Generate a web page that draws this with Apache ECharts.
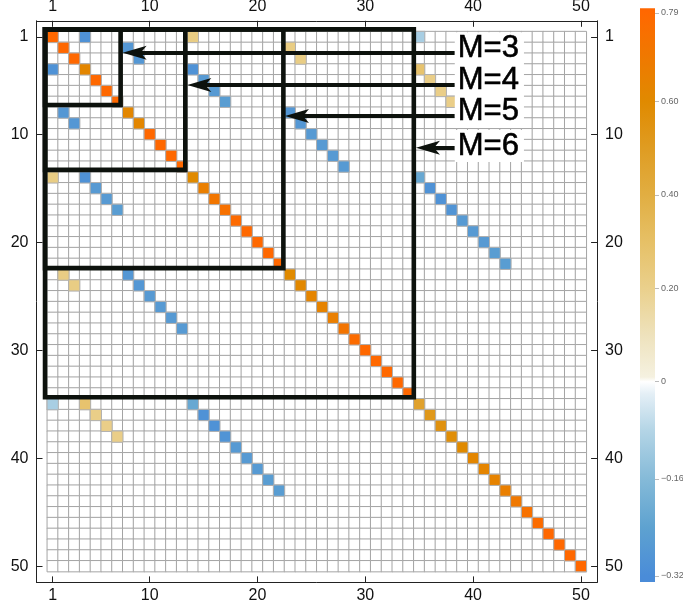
<!DOCTYPE html>
<html><head><meta charset="utf-8">
<script src="https://cdn.jsdelivr.net/npm/echarts@6/dist/echarts.min.js"></script>
<style>html,body{margin:0;padding:0;background:#fff}#c{width:683px;height:610px}</style>
</head><body><div id="c"></div>
<script>
// ---------------- data ----------------
const N = 50;
const tickLabels = [1, 10, 20, 30, 40, 50];
const diagonal = [
  0.79,0.79,0.79,0.62,0.79,0.79,0.79,
  0.62,0.62,0.79,0.79,0.79,0.79,
  0.60,0.66,0.71,0.74,0.78,0.79,0.79,0.79,0.79,
  0.60,0.61,0.63,0.64,0.66,0.72,0.77,0.79,0.79,0.79,0.79,0.79,
  0.47,0.52,0.56,0.58,0.60,0.62,0.63,0.64,0.66,0.70,0.74,0.77,0.79,0.79,0.79,0.79
];
// upper-triangle off-diagonal entries (the matrix is symmetric)
const offRows = [1,2,3, 4,5,6,7, 1, 2,3, 8,9,10,11,12,13, 1, 4,5,6,7, 14,15,16,17,18,19,20,21,22];
const offCols = [4,8,9, 14,15,16,17, 14, 23,24, 23,24,25,26,27,28, 35, 35,36,37,38, 35,36,37,38,39,40,41,42,43];
const offVals = [-0.30,-0.28,-0.28, -0.30,-0.27,-0.27,-0.26, 0.22, 0.22,0.22,
                 -0.28,-0.28,-0.27,-0.27,-0.27,-0.27, -0.10, 0.28,0.21,0.21,0.21,
                 -0.22,-0.30,-0.30,-0.29,-0.27,-0.27,-0.27,-0.26,-0.26];
// annotation boxes / arrows (matrix units)
const boxNames = ['M=3', 'M=4', 'M=5', 'M=6'];
const boxStart = 0.29;
const boxRight = [7.3, 13.3, 22.4, 34.5];
const boxBottom = [7.3, 13.3, 22.4, 34.36];
const arrowY = [2.45, 5.44, 8.31, 11.25];
const arrowTip = [7.49, 13.49, 22.55, 34.7];
const arrowTail = 38.3;
const labelY = [2.05, 4.98, 7.94, 11.09];
// colour bar
const cbarUpperTicks = [0.2, 0.4, 0.6, 0.79];
const cbarLowerTicks = [0, -0.16, -0.32];
const scaleVals = [-0.33,-0.32,-0.24,-0.16,-0.08,-0.02,0,0.01,0.1,0.2,0.3,0.4,0.5,0.6,0.7,0.79,0.8];
const scaleCols = ['#4a8bd8','#4a8cd8','#5ea2d0','#85bad8','#b4d5e6','#e4eff6','#ffffff','#f5f1e0','#eee2bc','#ead08c','#e6c066','#e1ae42','#df9c22','#e08a00','#f07800','#ff6800','#ff6600'];
const vMin = -0.33, vMax = 0.8;

// ---------------- helpers ----------------
function hex(h){return [parseInt(h.slice(1,3),16),parseInt(h.slice(3,5),16),parseInt(h.slice(5,7),16)];}
function colorAt(v){
  if (v <= scaleVals[0]) return scaleCols[0];
  for (let i = 0; i < scaleVals.length - 1; i++) {
    if (v <= scaleVals[i+1]) {
      const t = (v - scaleVals[i]) / (scaleVals[i+1] - scaleVals[i]);
      const a = hex(scaleCols[i]), b = hex(scaleCols[i+1]);
      const c = a.map((x, k) => Math.round(x + (b[k] - x) * t));
      return 'rgb(' + c.join(',') + ')';
    }
  }
  return scaleCols[scaleCols.length - 1];
}
const cats = Array.from({length: N}, (_, i) => String(i + 1));
const bgCells = [];
for (let r = 0; r < N; r++) for (let c = 0; c < N; c++) bgCells.push([c, r, 0]);
const cells = diagonal.map((v, i) => [i, i, v]);
offRows.forEach((r, k) => {
  cells.push([offCols[k] - 1, r - 1, offVals[k]]);
  cells.push([r - 1, offCols[k] - 1, offVals[k]]);
});
const vmStops = [];
for (let i = 0; i <= 113; i++) vmStops.push(colorAt(vMin + i * 0.01));
const upperStops = scaleVals.filter(v => v > 0.005).map(v => ({offset: (vMax - v) / vMax, color: colorAt(v)}))
  .concat([{offset: 1, color: colorAt(0.0001)}]).sort((a, b) => a.offset - b.offset);
const lowerStops = scaleVals.filter(v => v <= 0).map(v => ({offset: v / vMin, color: colorAt(v)}))
  .sort((a, b) => a.offset - b.offset);
const fmtC = v => v === 0 ? '0' : (v < 0 ? '\u2212' : '') + Math.abs(v).toFixed(2);

// ---------------- layout ----------------
const L = 47.3, T = 31.6, W = 539, H = 540, cw = W / N, ch = H / N;
const FONT = 'Liberation Sans, Arial, sans-serif';
const frameAxis = (grid, pos, isY, margin) => ({
  gridIndex: grid, type: 'value', position: pos, min: -0.5, max: N + 1.5,
  inverse: isY, splitLine: {show: false},
  axisLine: {show: true, onZero: false, lineStyle: {color: '#222', width: 1}},
  axisTick: {show: true, inside: true, length: 6, customValues: tickLabels, lineStyle: {color: '#222'}},
  axisLabel: {show: true, customValues: tickLabels, fontSize: 16, color: '#111', fontFamily: FONT, margin: margin}
});

const option = {
  animation: false,
  backgroundColor: '#fff',
  grid: [
    {left: L, top: T, width: W, height: H, outerBoundsMode: 'none'},
    {left: L - cw, top: T - ch, width: W + 2 * cw, height: H + 2 * ch, outerBoundsMode: 'none'},
    {left: 640, top: 8.3, width: 15, height: 373.4, outerBoundsMode: 'none'},
    {left: 640, top: 381.7, width: 15, height: 200.3, outerBoundsMode: 'none'}
  ],
  xAxis: [
    {gridIndex: 0, type: 'category', data: cats, show: false},
    frameAxis(1, 'bottom', false, 5),
    frameAxis(1, 'top', false, 6),
    {gridIndex: 2, type: 'category', data: [''], show: false},
    {gridIndex: 3, type: 'category', data: [''], show: false}
  ],
  yAxis: [
    {gridIndex: 0, type: 'category', data: cats, inverse: true, show: false},
    frameAxis(1, 'left', true, 8),
    frameAxis(1, 'right', true, 8),
    {gridIndex: 2, type: 'value', position: 'right', min: 0, max: vMax,
     axisLine: {show: false}, splitLine: {show: false},
     axisTick: {show: true, length: 4, customValues: cbarUpperTicks, lineStyle: {color: '#bbb'}},
     axisLabel: {customValues: cbarUpperTicks, formatter: fmtC, fontSize: 9, color: '#666', fontFamily: FONT, margin: 6}},
    {gridIndex: 3, type: 'value', position: 'right', min: vMin, max: 0,
     axisLine: {show: false}, splitLine: {show: false},
     axisTick: {show: true, length: 4, customValues: cbarLowerTicks, lineStyle: {color: '#bbb'}},
     axisLabel: {customValues: cbarLowerTicks, formatter: fmtC, fontSize: 9, color: '#666', fontFamily: FONT, margin: 6}}
  ],
  visualMap: {show: false, type: 'continuous', seriesIndex: 1, dimension: 2, min: vMin, max: vMax, inRange: {color: vmStops}},
  series: [
    {type: 'heatmap', xAxisIndex: 0, yAxisIndex: 0, data: bgCells, silent: true, progressive: 0,
     itemStyle: {color: '#ffffff', borderColor: '#a4a4a4', borderWidth: 1}, emphasis: {disabled: true}},
    {type: 'heatmap', xAxisIndex: 0, yAxisIndex: 0, data: cells, silent: true, progressive: 0,
     itemStyle: {borderColor: '#b0b0b0', borderWidth: 1}, emphasis: {disabled: true}},
    {type: 'lines', coordinateSystem: 'cartesian2d', xAxisIndex: 1, yAxisIndex: 1, polyline: true, silent: true, z: 5,
     lineStyle: {color: '#0d120d', width: 4.6, opacity: 1, cap: 'square', join: 'miter'},
     data: boxRight.map((r, i) => ({coords: [[boxStart, boxStart], [r, boxStart], [r, boxBottom[i]], [boxStart, boxBottom[i]], [boxStart, boxStart]]}))},
    {type: 'lines', coordinateSystem: 'cartesian2d', xAxisIndex: 1, yAxisIndex: 1, silent: true, z: 6,
     lineStyle: {color: '#0d120d', width: 4.2, opacity: 1},
     data: arrowY.map((y, i) => ({coords: [[arrowTail, y], [arrowTip[i] + 1.0, y]]}))},
    {type: 'scatter', xAxisIndex: 1, yAxisIndex: 1, silent: true, z: 7,
     symbol: 'path://M0,7L24,0L18,7L24,14Z', symbolSize: [24, 14], symbolOffset: ['50%', 0],
     itemStyle: {color: '#0d120d', opacity: 1},
     data: arrowY.map((y, i) => [arrowTip[i], y])},
    {type: 'scatter', xAxisIndex: 1, yAxisIndex: 1, silent: true, z: 8, symbolSize: 0,
     data: boxNames.map((n, i) => ({name: n, value: [arrowTail, labelY[i]]})),
     label: {show: true, position: 'right', distance: 0, formatter: '{b}', fontSize: 31, fontFamily: FONT,
             color: '#000', opacity: 1, textBorderColor: '#000', textBorderWidth: 0.6,
             backgroundColor: '#fff', padding: [1, 5, 0, 3]}},
    {type: 'bar', xAxisIndex: 3, yAxisIndex: 3, data: [vMax], barWidth: '100%', silent: true,
     itemStyle: {color: {type: 'linear', x: 0, y: 0, x2: 0, y2: 1, colorStops: upperStops}}},
    {type: 'bar', xAxisIndex: 4, yAxisIndex: 4, data: [vMin], barWidth: '100%', silent: true,
     itemStyle: {color: {type: 'linear', x: 0, y: 0, x2: 0, y2: 1, colorStops: lowerStops}}}
  ]
};
const chart = echarts.init(document.getElementById('c'), null, {renderer: 'canvas'});
chart.setOption(option);
</script></body></html>
